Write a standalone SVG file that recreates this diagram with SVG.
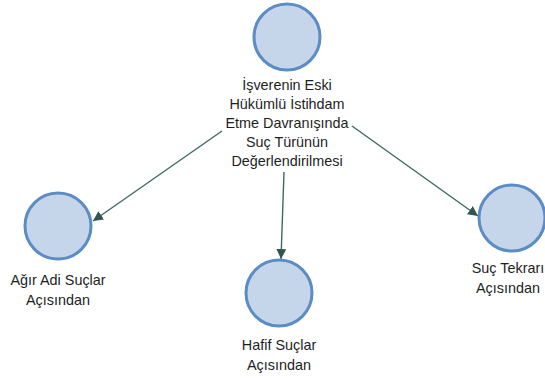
<svg xmlns="http://www.w3.org/2000/svg" width="545" height="380" viewBox="0 0 545 380">
<style>
.n circle{fill:#c6d6ea;stroke:#5b8cc4;stroke-width:3}
.n text{font-family:"Liberation Sans",Arial,sans-serif;font-size:14.4px;fill:#1e1e1e;text-anchor:middle}
.c line{stroke:#3f6a62;stroke-width:1.4}
</style>
<defs>
<marker id="ah" viewBox="0 0 10 10" refX="10" refY="5" markerWidth="10" markerHeight="10" markerUnits="userSpaceOnUse" orient="auto">
<path d="M0,0 L10,5 L0,10 z" fill="#2f5750"/>
</marker>
</defs>
<rect width="545" height="380" fill="#fff"/>
<g class="c">
<line x1="222" y1="131" x2="93" y2="221" marker-end="url(#ah)"/>
<line x1="284" y1="172" x2="281" y2="259" marker-end="url(#ah)"/>
<line x1="352" y1="126" x2="478" y2="216" marker-end="url(#ah)"/>
</g>
<g id="top" class="n">
<circle cx="287" cy="37" r="33"/>
<text x="287" y="90">İşverenin Eski</text>
<text x="287" y="109">Hükümlü İstihdam</text>
<text x="287" y="128">Etme Davranışında</text>
<text x="287" y="147">Suç Türünün</text>
<text x="287" y="166">Değerlendirilmesi</text>
</g>
<g id="agir" class="n">
<circle cx="58" cy="226" r="33"/>
<text x="58" y="285">Ağır Adi Suçlar</text>
<text x="58" y="305">Açısından</text>
</g>
<g id="hafif" class="n">
<circle cx="279" cy="293" r="33"/>
<text x="279" y="350">Hafif Suçlar</text>
<text x="279" y="370">Açısından</text>
</g>
<g id="tekrar" class="n">
<circle cx="512" cy="218" r="33"/>
<text x="508" y="273">Suç Tekrarı</text>
<text x="508" y="293">Açısından</text>
</g>
</svg>
